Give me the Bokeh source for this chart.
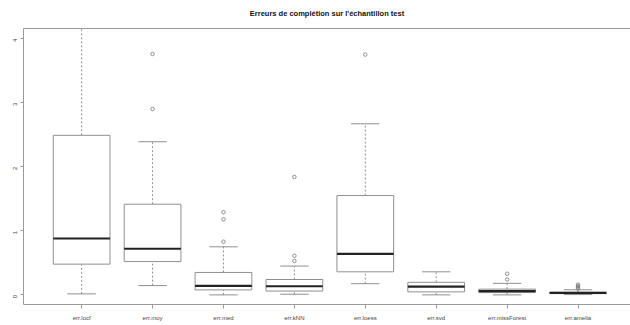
import math
from bokeh.plotting import figure
from bokeh.models import FixedTicker, LinearAxis, Range1d, ColumnDataSource
from bokeh.embed import file_html
from bokeh.resources import INLINE

categories = ["err.locf", "err.moy", "err.med", "err.kNN", "err.loess",
              "err.svd", "err.missForest", "err.amelia"]
whisker_low = [0.016, 0.145, 0.0, 0.01, 0.175, 0.0, 0.0, 0.005]
q1 = [0.48, 0.52, 0.078, 0.06, 0.36, 0.047, 0.036, 0.02]
median = [0.88, 0.72, 0.14, 0.135, 0.64, 0.13, 0.06, 0.03]
q3 = [2.49, 1.415, 0.35, 0.24, 1.55, 0.196, 0.09, 0.04]
whisker_high = [4.6, 2.39, 0.75, 0.45, 2.67, 0.36, 0.18, 0.08]
outliers = {
    "err.moy": [3.76, 2.90],
    "err.med": [0.83, 1.18, 1.29],
    "err.kNN": [0.53, 0.61, 1.84],
    "err.loess": [3.75],
    "err.missForest": [0.24, 0.33],
    "err.amelia": [0.10, 0.12, 0.14, 0.16],
}
y_ticks = [0, 1, 2, 3, 4]
title = "Erreurs de complétion sur l'échantillon test"

pos = list(range(1, len(categories) + 1))
box_w = 0.8
cap_w = 0.4

p = figure(width=630, height=325, output_backend="svg", toolbar_location=None,
           x_range=Range1d(0.18, 8.74), y_range=Range1d(-0.15, 4.157),
           min_border_left=23, min_border_right=0, min_border_bottom=21,
           min_border_top=0, x_axis_location=None, y_axis_location=None)
p.background_fill_color = "white"
p.border_fill_color = "white"
p.outline_line_color = None
p.xgrid.visible = False
p.ygrid.visible = False

p.title.text = title
p.title.text_font = "Liberation Sans"
p.title.text_font_style = "bold"
p.title.text_font_size = "7.5px"
p.title.text_color = "#111111"
p.title.align = "center"
p.title.vertical_align = "top"
p.title.offset = 4
p.title.standoff = 17

axis_col = "#9a9a9a"

yax = LinearAxis(ticker=FixedTicker(ticks=y_ticks))
yax.axis_line_color = axis_col
yax.major_tick_line_color = axis_col
yax.minor_tick_line_color = None
yax.major_tick_out = 3
yax.major_tick_in = 0
yax.major_label_orientation = math.pi / 2
yax.major_label_text_font = "Liberation Sans"
yax.major_label_text_font_size = "6px"
yax.major_label_text_color = "#444444"
yax.major_label_standoff = 5
p.add_layout(yax, "left")

xax = LinearAxis(ticker=FixedTicker(ticks=pos))
xax.major_label_overrides = {i: c for i, c in zip(pos, categories)}
xax.axis_line_color = axis_col
xax.major_tick_line_color = axis_col
xax.minor_tick_line_color = None
xax.major_tick_out = 4
xax.major_tick_in = 0
xax.major_label_text_font = "Liberation Sans"
xax.major_label_text_font_size = "6px"
xax.major_label_text_color = "#444444"
xax.major_label_standoff = 6
p.add_layout(xax, "below")

top = LinearAxis(ticker=FixedTicker(ticks=[]))
top.axis_line_color = axis_col
top.major_tick_line_color = None
top.minor_tick_line_color = None
top.major_label_text_font_size = "0px"
top.major_label_standoff = 0
p.add_layout(top, "above")

src = ColumnDataSource(dict(x=pos, lo=whisker_low, q1=q1, med=median, q3=q3, hi=whisker_high,
                            l=[x - box_w / 2 for x in pos], r=[x + box_w / 2 for x in pos],
                            cl=[x - cap_w / 2 for x in pos], cr=[x + cap_w / 2 for x in pos]))

edge = "#8f8f8f"
# whiskers (dashed)
p.segment(x0="x", y0="q3", x1="x", y1="hi", source=src, line_color=edge, line_dash="2 2", line_width=1)
p.segment(x0="x", y0="lo", x1="x", y1="q1", source=src, line_color=edge, line_dash="2 2", line_width=1)
# caps
p.segment(x0="cl", y0="hi", x1="cr", y1="hi", source=src, line_color=edge, line_width=1)
p.segment(x0="cl", y0="lo", x1="cr", y1="lo", source=src, line_color=edge, line_width=1)
# boxes
p.quad(left="l", right="r", bottom="q1", top="q3", source=src, fill_color="white",
       line_color=edge, line_width=1)
# medians
p.segment(x0="l", y0="med", x1="r", y1="med", source=src, line_color="#222222", line_width=2.2)

ox, oy = [], []
for c, vals in outliers.items():
    for v in vals:
        ox.append(pos[categories.index(c)])
        oy.append(v)
p.scatter(ox, oy, marker="circle", size=3.5, fill_color=None, line_color="#777777", line_width=0.8)

open("out.html", "w").write(file_html(p, INLINE))
